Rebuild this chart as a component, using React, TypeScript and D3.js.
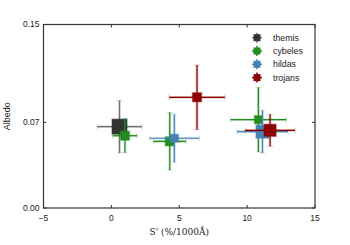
import React from 'react';
import * as d3 from 'd3';

// groups and their points (S' slope, albedo, with errors)
const groups = ['themis', 'cybeles', 'hildas', 'trojans'];
const colors = ['#333333', '#228b22', '#4682b4', '#8b0000'];
const errColors = ['#707070', '#228b22', '#4682b4', '#8b0000'];

const pointGroup = [0, 1, 1, 1, 2, 2, 3, 3];
const slope = [0.6, 1.0, 4.3, 10.83, 4.64, 11.13, 6.31, 11.69];
const slopeErr = [1.65, 0.9, 1.2, 2.05, 1.83, 1.88, 2.05, 1.84];
const albedo = [0.0665, 0.0591, 0.0545, 0.0722, 0.057, 0.0624, 0.0905, 0.0635];
const albedoErr = [0.0215, 0.014, 0.0235, 0.0264, 0.0196, 0.0175, 0.0264, 0.013];
const weight = [225, 81, 81, 64, 64, 169, 81, 144];

const xTicks = [-5, 0, 5, 10, 15];
const yTicks = [0, 0.07, 0.15];

export default function App() {
  const W = 350, H = 245;
  const margin = { top: 24.5, right: 35, bottom: 37, left: 43.5 };
  const iw = W - margin.left - margin.right;
  const ih = H - margin.top - margin.bottom;

  const x = d3.scaleLinear().domain([-5, 15]).range([0, iw]);
  const y = d3.scaleLinear().domain([0, 0.15]).range([ih, 0]);
  const side = d3.scaleSqrt().domain([0, 225]).range([0, 15]);

  const font = "'Liberation Sans', Arial, sans-serif";
  const cap = 3;

  const pts = slope.map((s, i) => ({
    g: pointGroup[i], x: s, xe: slopeErr[i], y: albedo[i], ye: albedoErr[i], w: weight[i]
  }));

  return (
    <svg width={W} height={H} style={{ position: 'absolute', left: 0, top: 0 }}>
      <rect width={W} height={H} fill="white" />
      <g transform={`translate(${margin.left},${margin.top})`}>
        {pts.map((p, i) => {
          const c = errColors[p.g];
          const cx = x(p.x), cy = y(p.y);
          const x0 = x(p.x - p.xe), x1 = x(p.x + p.xe);
          const y0 = y(p.y - p.ye), y1 = y(p.y + p.ye);
          const s = side(p.w);
          return (
            <g key={i}>
              <line x1={x0} x2={x1} y1={cy} y2={cy} stroke={c} strokeOpacity={0.25} strokeWidth={2.6} />
              <line x1={cx} x2={cx} y1={y0} y2={y1} stroke={c} strokeOpacity={0.25} strokeWidth={2.6} />
              <line x1={x0} x2={x1} y1={cy} y2={cy} stroke={c} strokeWidth={1.2} />
              <line x1={cx} x2={cx} y1={y0} y2={y1} stroke={c} strokeWidth={1.2} />
              <line x1={x0} x2={x0} y1={cy - cap} y2={cy + cap} stroke={c} strokeOpacity={0.25} strokeWidth={1} />
              <line x1={x1} x2={x1} y1={cy - cap} y2={cy + cap} stroke={c} strokeOpacity={0.25} strokeWidth={1} />
              <line x1={cx - cap} x2={cx + cap} y1={y0} y2={y0} stroke={c} strokeOpacity={0.25} strokeWidth={1} />
              <line x1={cx - cap} x2={cx + cap} y1={y1} y2={y1} stroke={c} strokeOpacity={0.25} strokeWidth={1} />
              <rect x={cx - s / 2} y={cy - s / 2} width={s} height={s}
                fill={colors[p.g]} stroke={colors[p.g]} strokeOpacity={0.4} strokeWidth={1.5} />
            </g>
          );
        })}

        {/* frame */}
        <rect x={0} y={0} width={iw} height={ih} fill="none" stroke="#333" strokeWidth={1.2} />

        {/* x ticks */}
        {xTicks.map(t => (
          <g key={t} transform={`translate(${x(t)},0)`}>
            <line y1={ih} y2={ih - 3} stroke="#333" />
            <line y1={0} y2={3} stroke="#333" />
            <text y={ih + 13} textAnchor="middle" fontSize={8.5} fontFamily={font} fill="#222">
              {t < 0 ? `\u2212${Math.abs(t)}` : t}
            </text>
          </g>
        ))}
        {/* y ticks */}
        {yTicks.map(t => (
          <g key={t} transform={`translate(0,${y(t)})`}>
            <line x1={0} x2={3} stroke="#333" />
            <line x1={iw} x2={iw - 3} stroke="#333" />
            <text x={-4} dy="0.35em" textAnchor="end" fontSize={8.5} fontFamily={font} fill="#222">
              {t.toFixed(2)}
            </text>
          </g>
        ))}

        <text x={iw / 2} y={ih + 27} textAnchor="middle" fontSize={9} fontFamily="'DejaVu Serif', serif" fill="#222">
          S' (%/1000Å)
        </text>
        <text transform={`translate(${-34},${ih / 2}) rotate(-90)`} textAnchor="middle"
          fontSize={9} fontFamily={font} fill="#222">
          Albedo
        </text>

        {/* legend */}
        {groups.map((g, i) => {
          const lx = 213.5, ly = 13.2 + i * 13.3;
          return (
            <g key={g} transform={`translate(${lx},${ly})`}>
              <line x1={-5} x2={5} stroke={errColors[i]} strokeWidth={1.5} />
              <line y1={-5} y2={5} stroke={errColors[i]} strokeWidth={1.5} />
              <rect x={-3.5} y={-3.5} width={7} height={7} fill={colors[i]} />
              <text x={16} dy="0.35em" fontSize={8.8} fontFamily={font} fill="#222">{g}</text>
            </g>
          );
        })}
      </g>
    </svg>
  );
}
